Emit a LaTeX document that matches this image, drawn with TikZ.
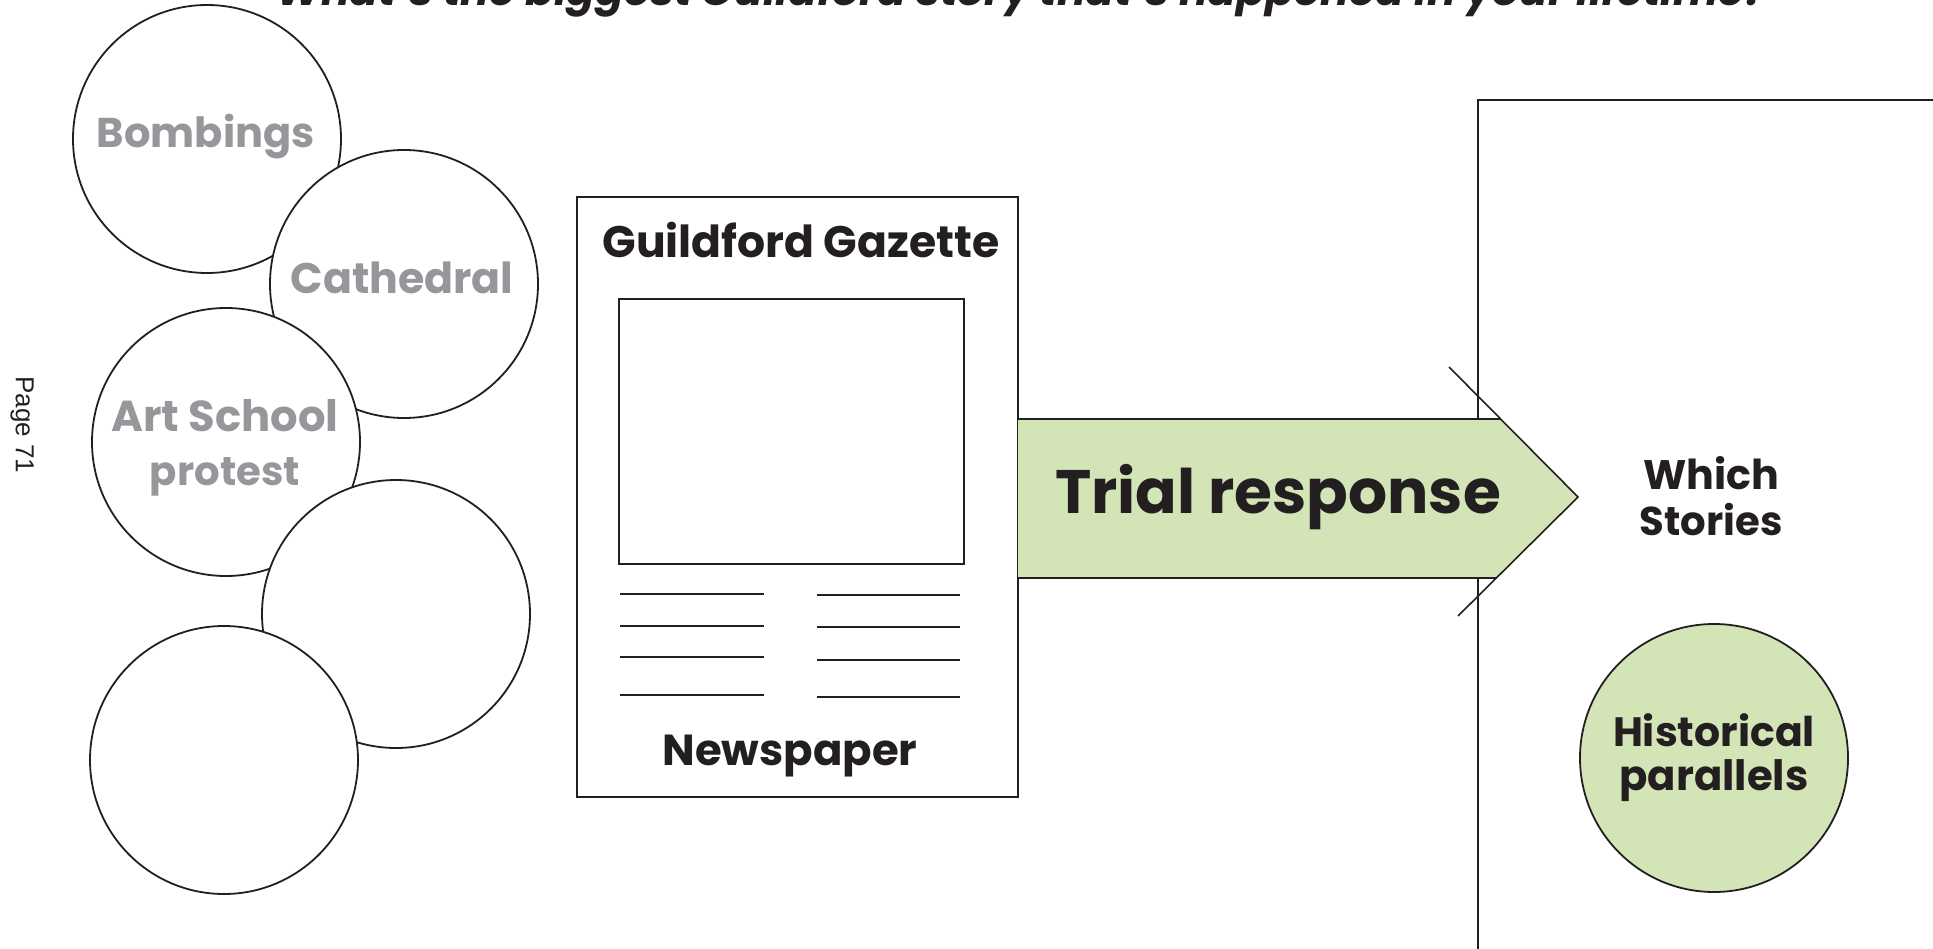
\documentclass[tikz,border=0pt]{standalone}
\usepackage{fontspec}
\setmainfont{Poppins}
\newfontfamily\arialf{Liberation Sans}
\definecolor{ink}{RGB}{35,31,32}
\definecolor{greytxt}{RGB}{150,151,155}
\definecolor{leaf}{RGB}{211,229,182}
\newcommand\fw[2]{\resizebox{#1pt}{!}{#2}}
\begin{document}
\begin{tikzpicture}[x=1pt,y=-1pt,
  bubble/.style={circle, draw=ink, line width=1.8pt, fill=white, minimum size=268pt, inner sep=0pt},
  bubbletext/.style={text=greytxt, font=\bfseries\fontsize{40}{54}\selectfont, align=center, inner sep=0pt,
    execute at begin node={\lineskiplimit=-100pt}},
  darktext/.style={text=ink, font=\bfseries\fontsize{40}{46}\selectfont, align=center, inner sep=0pt,
    execute at begin node={\lineskiplimit=-100pt}},
  frame/.style={draw=ink, line width=2.2pt, inner sep=0pt, anchor=north west},
  rule/.style={draw=ink, line width=2.4pt},
]
\useasboundingbox (0,0) rectangle (1933,949);
\clip (0,0) rectangle (1933,949);

% title (cut off at the top edge)
\node[anchor=base, text=ink, font=\bfseries\itshape, inner sep=0pt] (title) at (1022,6)
  {\fw{1491}{What’s the biggest Guildford story that’s happened in your lifetime?}};

% page label
\node[rotate=-90, text=ink, font=\arialf\fontsize{26}{30}\selectfont, inner sep=0pt] (page) at (22,425) {Page 71};

% story bubbles
\node[bubble] (bomb) at (207,139) {};
\node[bubbletext] (bombtxt) at (206,137) {\fw{218}{Bombings}};
\node[bubble] (cath) at (404,284) {};
\node[bubbletext] (cathtxt) at (402,278) {\fw{223}{Cathedral}};
\node[bubble] (art) at (226,442) {};
\node[bubbletext] (arttxt) at (225,448) {\fw{227}{Art School}\\\fw{150}{protest}};
\node[bubble] (blankA) at (396,614) {};
\node[bubble] (blankB) at (224,760) {};

% newspaper
\node[frame, minimum width=441pt, minimum height=600pt] (paper) at (576,196) {};
\node[frame, minimum width=345pt, minimum height=265pt] (photo) at (618,298) {};
\node[text=ink, font=\bfseries, inner sep=0pt] (gazette) at (801,240) {\fw{397}{Guildford Gazette}};
\node[text=ink, font=\bfseries, inner sep=0pt] (newsp) at (790,756) {\fw{255}{Newspaper}};
\draw[rule] (620,594) -- (764,594);
\draw[rule] (620,626) -- (764,626);
\draw[rule] (620,657) -- (764,657);
\draw[rule] (620,695) -- (764,695);
\draw[rule] (817,595) -- (960,595);
\draw[rule] (817,627) -- (960,627);
\draw[rule] (817,660) -- (960,660);
\draw[rule] (817,697) -- (960,697);

% right panel
\node[frame, minimum width=600pt, minimum height=1000pt] (panel) at (1477,99) {};

% arrow
\coordinate (atl) at (1018,419);
\coordinate (atr) at (1501,419);
\coordinate (abl) at (1018,578);
\coordinate (abr) at (1497,578);
\coordinate (tip) at (1578,497);
\coordinate (dtop) at (1449,367);
\coordinate (dbot) at (1458,616);
\fill[leaf] (atl) -- (atr) -- (tip) -- (abr) -- (abl) -- cycle;
\draw[rule] (atl) -- (atr);
\draw[rule] (abl) -- (abr);
\draw[ink, line width=1.6pt] (dtop) -- (tip) -- (dbot);
\node[text=ink, font=\bfseries, inner sep=0pt] (trial) at (1278,497) {\fw{446}{Trial response}};

% which stories
\node[darktext] (which) at (1711,496) {\fw{136}{Which}\\\fw{143}{Stories}};
\node[circle, draw=ink, line width=1.8pt, fill=leaf, minimum size=268pt, inner sep=0pt] (hist) at (1714,758) {};
\node[darktext, font=\bfseries\fontsize{40}{44}\selectfont] (histtext) at (hist) {\fw{202}{Historical}\\\fw{189}{parallels}};
\end{tikzpicture}
\end{document}
